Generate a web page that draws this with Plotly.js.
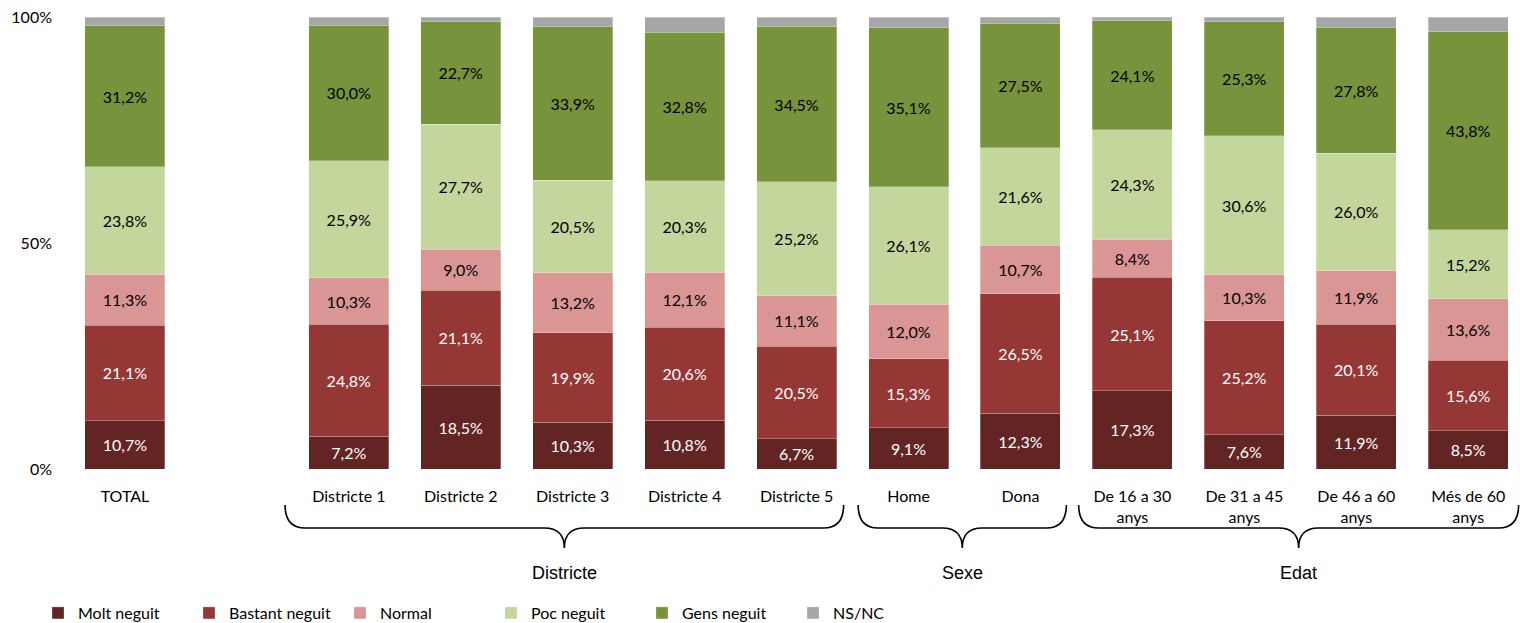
<!DOCTYPE html>
<html>
<head>
<meta charset="utf-8">
<script src="https://cdn.plot.ly/plotly-3.0.1.min.js"></script>
<style>html,body{margin:0;padding:0;background:#fff;}#chart{width:1520px;height:623px;}</style>
</head>
<body>
<div id="chart"></div>
<script>
const categories = ['TOTAL','Districte 1','Districte 2','Districte 3','Districte 4','Districte 5','Home','Dona','De 16 a 30<br>anys','De 31 a 45<br>anys','De 46 a 60<br>anys','Més de 60<br>anys'];
const seriesNames = ['Molt neguit','Bastant neguit','Normal','Poc neguit','Gens neguit','NS/NC'];
const moltNeguit    = [10.7, 7.2, 18.5, 10.3, 10.8, 6.7, 9.1, 12.3, 17.3, 7.6, 11.9, 8.5];
const bastantNeguit = [21.1, 24.8, 21.1, 19.9, 20.6, 20.5, 15.3, 26.5, 25.1, 25.2, 20.1, 15.6];
const normal        = [11.3, 10.3, 9.0, 13.2, 12.1, 11.1, 12.0, 10.7, 8.4, 10.3, 11.9, 13.6];
const pocNeguit     = [23.8, 25.9, 27.7, 20.5, 20.3, 25.2, 26.1, 21.6, 24.3, 30.6, 26.0, 15.2];
const gensNeguit    = [31.2, 30.0, 22.7, 33.9, 32.8, 34.5, 35.1, 27.5, 24.1, 25.3, 27.8, 43.8];
const nsnc          = [1.9, 1.8, 1.0, 2.2, 3.4, 2.0, 2.4, 1.4, 0.8, 1.0, 2.3, 3.3];
const groups = ['Districte','Sexe','Edat'];
const yTickVals = [0, 50, 100];
const yTickText = ['0%', '50%', '100%'];

const colors = ['#632523','#953735','#D99694','#C3D69B','#77933C','#A6A6A6'];
const textColors = ['#ffffff','#ffffff','#000000','#000000','#000000','#000000'];
const allSeries = [moltNeguit, bastantNeguit, normal, pocNeguit, gensNeguit, nsnc];

// TOTAL, then an empty slot, then the rest
const xPos = categories.map((c, i) => i === 0 ? 0 : i + 1);
const font = 'Lato, "Open Sans", sans-serif';

const traces = allSeries.map((vals, s) => ({
  type: 'bar',
  name: seriesNames[s],
  x: xPos,
  y: vals,
  width: 0.715,
  marker: {color: colors[s], line: {color: 'rgba(255,255,255,0.45)', width: 0.6}},
  texttemplate: s === 5 ? '' : '%{y:.1f}%',
  textposition: s === 5 ? 'none' : 'inside',
  insidetextanchor: 'middle',
  textangle: 0,
  constraintext: 'none',
  insidetextfont: {family: font, size: 16, color: textColors[s]},
  hoverinfo: 'name+y'
}));

const mL = 69, mR = 7, mT = 17, mB = 154;
const W = 1520 - mL - mR, H = 623 - mT - mB;
const xr = [-0.5, 12.4];
const px = x => (x - xr[0]) / (xr[1] - xr[0]);   // data x -> paper
const pyOff = d => -d / H;                          // pixels below plot -> paper

const braces = [
  {x0: 1.43, x1: 6.42},
  {x0: 6.55, x1: 8.41},
  {x0: 8.52, x1: 12.45}
];
const yT = pyOff(36), yM = pyOff(59), yB = pyOff(79);
const rx = 20 / W;
const shapes = braces.map(b => {
  const a = px(b.x0), e = px(b.x1), c = (a + e) / 2;
  const p = `M ${a},${yT} Q ${a},${yM} ${a+rx},${yM} L ${c-rx},${yM} Q ${c},${yM} ${c},${yB} ` +
            `Q ${c},${yM} ${c+rx},${yM} L ${e-rx},${yM} Q ${e},${yM} ${e},${yT}`;
  return {type: 'path', xref: 'paper', yref: 'paper', path: p, line: {color: '#000', width: 1.6}};
});
const annotations = braces.map((b, i) => ({
  xref: 'paper', yref: 'paper', x: px((b.x0 + b.x1) / 2), y: pyOff(104),
  text: groups[i], showarrow: false, xanchor: 'center', yanchor: 'middle',
  font: {family: '"Liberation Sans", Arial, sans-serif', size: 18, color: '#000'}
}));

const layout = {
  width: 1520, height: 623,
  margin: {l: mL, r: mR, t: mT, b: mB},
  paper_bgcolor: '#fff', plot_bgcolor: '#fff',
  barmode: 'stack',
  separators: ',.',
  showlegend: true,
  legend: {orientation: 'h', xref: 'container', yref: 'container', x: 38 / 1520, xanchor: 'left', y: 10 / 623, yanchor: 'middle',
           font: {family: font, size: 16, color: '#000'}, traceorder: 'normal', entrywidth: 106, itemwidth: 30},
  xaxis: {range: xr, tickvals: xPos, ticktext: categories, showgrid: false, zeroline: false, showline: false,
          ticks: '', ticklabelstandoff: 16, tickfont: {family: font, size: 16, color: '#000'}, fixedrange: true},
  yaxis: {range: [0, 100], tickvals: yTickVals, ticktext: yTickText, showgrid: false, zeroline: false, showline: false,
          ticks: '', ticklabelstandoff: 16, tickfont: {family: font, size: 16, color: '#000'}, fixedrange: true},
  shapes: shapes,
  annotations: annotations
};

Plotly.newPlot('chart', traces, layout, {displayModeBar: false, staticPlot: true});
</script>
</body>
</html>
